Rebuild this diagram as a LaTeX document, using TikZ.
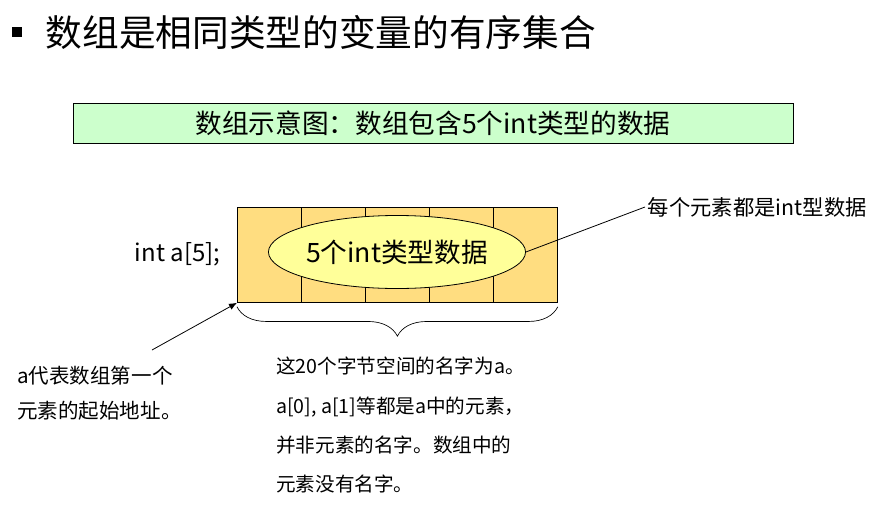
\documentclass[tikz,border=0pt]{standalone}
\usepackage{fontspec}
\setmainfont{Noto Sans CJK SC}
\usetikzlibrary{arrows.meta}
\usetikzlibrary{shapes.geometric}
\usetikzlibrary{decorations.pathreplacing}
\definecolor{cellfill}{RGB}{255,221,128}
\definecolor{ovalfill}{RGB}{255,255,153}
\definecolor{boxgreen}{RGB}{204,255,204}

\begin{document}
\begin{tikzpicture}[x=0.75pt,y=-0.75pt,
  cell/.style={draw,fill=cellfill,minimum width=48pt,minimum height=71.25pt,
    inner sep=0pt,anchor=north west,line width=0.6pt},
  note/.style={align=left,anchor=north west,inner sep=0pt}]
\useasboundingbox (0,0) rectangle (872,507);
\node[fill=black,minimum size=7.5pt,inner sep=0pt] (bullet) at (17,32) {};
\node[anchor=west,font=\fontsize{27.5}{30}\selectfont] (title) at (41,32)
  {数组是相同类型的变量的有序集合};
\node[draw,fill=boxgreen,minimum width=540pt,minimum height=30pt,
  font=\fontsize{20}{22}\selectfont] (caption) at (433,123)
  {数组示意图：数组包含5个int类型的数据};
\foreach \i in {1,...,5}
  \node[cell] (cell-\i) at ({237+64*(\i-1)},207) {};
\node[ellipse,draw,fill=ovalfill,line width=0.6pt,minimum width=192.75pt,
  minimum height=54.75pt,inner sep=0pt,font=\fontsize{20}{22}\selectfont]
  (oval) at (397,252) {5个int类型数据};
\node[anchor=east,font=\fontsize{18}{20}\selectfont] (decl) at (225,254) {int a[5];};
\node[anchor=west,inner sep=2pt,font=\fontsize{16}{18}\selectfont] (each) at (645,207)
  {每个元素都是int型数据};
\draw[line width=0.6pt] (oval.east) -- (each.west);
\coordinate (a-tail) at (152,350);
\draw[line width=0.6pt,-{Latex[length=6pt,width=5pt]}] (a-tail) -- (cell-1.south west);
\draw[line width=0.5pt,decorate,decoration={brace,mirror,amplitude=22pt,aspect=0.5}]
     ([yshift=-3pt]cell-1.south west)
  -- ([yshift=-3pt]cell-5.south east) coordinate (brace-end);
\node[note,font=\fontsize{15.4}{26}\selectfont] (start-note) at (17,366)
  {a代表数组第一个\\元素的起始地址。};
\node[note,font=\fontsize{14.7}{29.5}\selectfont] (name-note) at (276,357)
  {这20个字节空间的名字为a。\\a[0], a[1]等都是a中的元素，\\并非元素的名字。数组中的\\元素没有名字。};
\end{tikzpicture}
\end{document}
